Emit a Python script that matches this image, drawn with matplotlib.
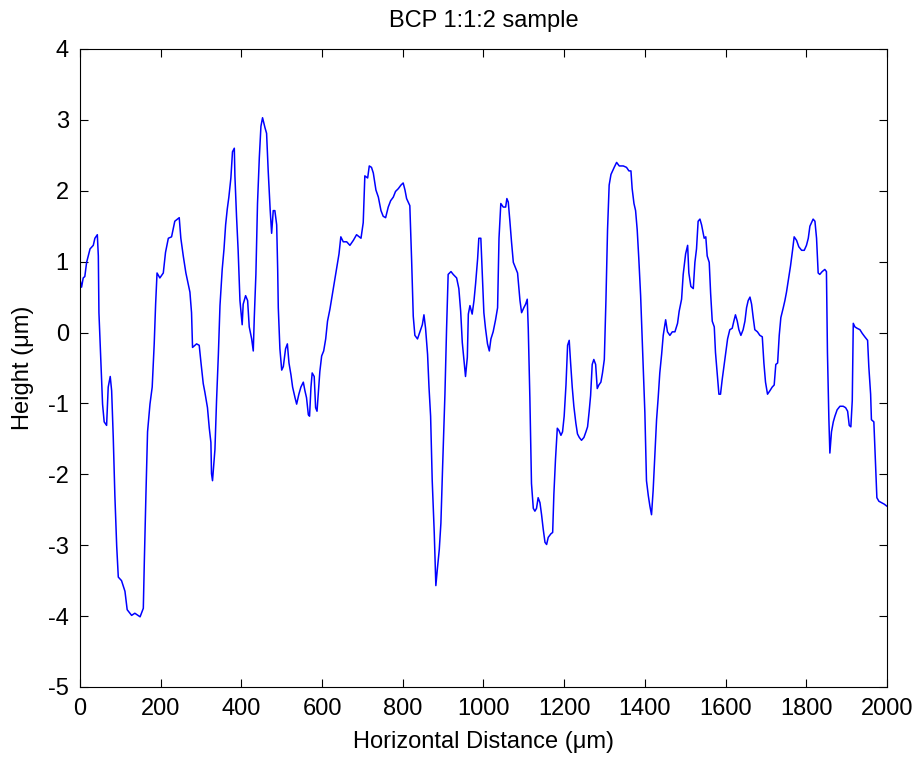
import matplotlib
matplotlib.use("Agg")
import matplotlib.pyplot as plt

plt.rcParams["font.family"] = ["Liberation Sans", "DejaVu Sans"]
plt.rcParams["axes.unicode_minus"] = False

# profile (distance in um, height in um)
distance = [
    0, 4, 8, 12, 16.5, 25, 33, 37, 43, 45.5, 47, 52, 56, 60, 66, 70, 75, 78.5, 82.5, 86.5,
    91, 95, 103, 111.5, 117, 128, 136, 149, 157, 159.5, 163.5, 167.5, 173.5, 179, 184, 187.5,
    191, 198, 206.5, 212, 219, 227, 235, 246, 250, 256, 262.5, 272.5, 276.5, 279, 289, 295.5,
    300, 305.5, 309.5, 316, 320.5, 324.5, 326, 328.5, 334.5, 338.5, 343, 347, 352.5, 357, 361,
    365, 369, 374, 378, 382.5, 384, 388, 392, 396.5, 402, 404.5, 410.5, 415.5, 419.5, 425.5,
    429.5, 432, 436, 440, 444.5, 448.5, 452.5, 458.5, 462.5, 466.5, 471.5, 475, 479,
    483, 487.5, 490, 491.5, 495.5, 500, 504, 509.5, 514, 518, 523, 527, 533, 537, 542.5,
    547.5, 553.5, 557.5, 561.5, 566, 569, 572.5, 575.5, 580.5, 584, 587.5, 590.5, 594.5,
    599, 604, 609, 613.5, 619.5, 623.5, 628.5, 633.5, 637.5, 642, 646.5, 652.5, 661, 669,
    677.5, 685.5, 696.5, 702, 706, 713, 717, 722.5, 727, 733.5, 739.5, 746, 751.5, 757.5,
    764, 770, 776.5, 782, 789, 795.5, 801, 805.5, 809.5, 813.5, 817.5, 822, 826, 830, 836.5,
    842.5, 848.5, 852.5, 856.5, 861.5, 865, 869, 873, 878, 882, 885.5, 890.5, 894.5, 898.5,
    904.5, 908.5, 912.5, 919.5, 925, 933.5, 939, 943.5, 947.5, 952.5, 955.5, 960, 962.5,
    966.5, 972, 976.5, 980.5,
    985.5, 988.5, 993.5, 997, 1001, 1005, 1010, 1014.5, 1018.5, 1024, 1030, 1035, 1038.5,
    1043, 1049, 1055, 1058, 1061.5, 1065.5, 1069.5, 1074, 1079.5, 1084.5, 1090.5, 1094.5,
    1100, 1104.5, 1108.5, 1111, 1115, 1119, 1123.5, 1127.5, 1131.5, 1135.5, 1140, 1144,
    1148, 1152.5, 1156.5, 1160.5, 1167, 1171.5, 1174.5, 1178.5, 1183, 1187, 1192, 1196,
    1200, 1204.5, 1208.5, 1212.5, 1216, 1220, 1224, 1229, 1233, 1237.5, 1243, 1249, 1254,
    1258, 1262, 1265.5, 1269.5, 1273.5, 1278, 1282, 1286, 1291, 1295, 1299.5, 1303.5,
    1307.5, 1311.5, 1316, 1320, 1324, 1330, 1336.5, 1346.5, 1354.5, 1360.5, 1365.5, 1368.5,
    1373, 1377, 1381, 1385, 1389.5, 1394.5, 1400, 1404, 1408.5, 1412.5, 1416.5, 1420.5,
    1425, 1429, 1433, 1437, 1441.5, 1445.5, 1451.5, 1456, 1462, 1468,
    1474.5, 1481, 1485, 1491, 1495, 1501, 1506, 1509, 1514, 1520, 1524, 1528, 1532, 1536.5,
    1540.5, 1547, 1551, 1554.5, 1559.5, 1563, 1567, 1572, 1575, 1579.5, 1583.5, 1587.5,
    1591.5, 1596, 1601, 1605, 1610.5, 1616.5, 1620.5, 1624.5, 1629, 1633, 1638, 1643.5,
    1648, 1652, 1656, 1660.5, 1664.5, 1668.5, 1672.5, 1679, 1685, 1691, 1695, 1699, 1704,
    1710, 1715.5, 1720.5, 1724.5, 1729, 1733, 1737, 1743, 1747, 1751, 1755, 1761, 1766,
    1770, 1776, 1781.5, 1788.5, 1795, 1800.5, 1805, 1809, 1813, 1817, 1821.5, 1825.5,
    1829.5, 1833.5, 1839.5, 1846, 1850, 1852.5, 1856, 1858.5, 1862.5, 1867, 1871, 1876.5,
    1883.5, 1891.5, 1897.5, 1902.5, 1906.5, 1910.5, 1914, 1916.5, 1920.5, 1926, 1933,
    1938.5, 1945, 1952, 1955, 1959.5, 1961.5, 1967.5, 1971.5, 1975, 1980, 1986.5, 1993, 2000,
]
height = [
    0.75, 0.64, 0.77, 0.79, 0.99, 1.18, 1.23, 1.33, 1.38, 1.08, 0.28, -0.43, -1.01, -1.26,
    -1.31, -0.77, -0.62, -0.82, -1.48, -2.30, -3.01, -3.45, -3.50, -3.65, -3.91, -3.99,
    -3.96, -4.01, -3.89, -3.23, -2.28, -1.40, -1.01, -0.77, -0.16, 0.40, 0.84, 0.77, 0.84,
    1.13, 1.33, 1.35, 1.57, 1.62, 1.33, 1.08, 0.84, 0.57, 0.28, -0.21, -0.16, -0.18, -0.43,
    -0.72, -0.84, -1.06, -1.35, -1.55, -1.99, -2.09, -1.65, -0.96, -0.31, 0.38, 0.89, 1.18,
    1.52, 1.74, 1.91, 2.18, 2.55, 2.60, 2.21, 1.64, 1.16, 0.45, 0.11, 0.40, 0.52, 0.45, 0.08,
    -0.09, -0.26, 0.21, 0.82, 1.82, 2.47, 2.91, 3.03, 2.89, 2.81, 2.28, 1.72, 1.40, 1.72,
    1.72, 1.52, 0.89, 0.35, -0.23, -0.53, -0.48, -0.23, -0.16, -0.43, -0.60, -0.77, -0.92,
    -1.01, -0.87, -0.77, -0.70, -0.82, -0.92, -1.16, -1.18, -0.77, -0.57, -0.62, -1.06,
    -1.11, -0.87, -0.55, -0.33, -0.26, -0.09, 0.16, 0.33, 0.47, 0.64, 0.82, 0.96, 1.11,
    1.35, 1.28, 1.28, 1.23, 1.30, 1.38, 1.33, 1.55, 2.21, 2.18, 2.35, 2.33, 2.25, 2.01,
    1.91, 1.72, 1.64, 1.62, 1.77, 1.86, 1.91, 1.99, 2.03, 2.08, 2.11, 2.01, 1.89, 1.84,
    1.79, 1.01, 0.23, -0.04, -0.09, 0.01, 0.11, 0.25, 0.06, -0.31, -0.77, -1.18, -2.09,
    -2.82, -3.57, -3.35, -3.06, -2.69, -1.94, -0.87, 0.04, 0.82, 0.86, 0.82, 0.77, 0.62,
    0.30, -0.14, -0.43, -0.62, -0.35, 0.26, 0.38, 0.26, 0.45, 0.69,
    1.04, 1.33, 1.33, 0.84, 0.28, 0.06, -0.16, -0.26, -0.09, 0.01, 0.18, 0.35, 1.33, 1.82,
    1.77, 1.77, 1.89, 1.84, 1.57, 1.28, 0.99, 0.91, 0.84, 0.45, 0.28, 0.35, 0.40, 0.47,
    0.06, -0.92, -2.13, -2.48, -2.52, -2.48, -2.33, -2.40, -2.57, -2.77, -2.96, -2.99,
    -2.89, -2.84, -2.82, -2.28, -1.79, -1.35, -1.38, -1.45, -1.40, -1.18, -0.74, -0.18,
    -0.11, -0.43, -0.77, -1.04, -1.28, -1.43, -1.48, -1.52, -1.48, -1.40, -1.33, -1.11,
    -0.89, -0.45, -0.38, -0.45, -0.79, -0.74, -0.70, -0.57, -0.38, 0.45, 1.45, 2.08, 2.23,
    2.28, 2.33, 2.40, 2.35, 2.35, 2.33, 2.28, 2.28, 2.03, 1.82, 1.72, 1.45, 1.04, 0.52,
    -0.28, -1.13, -2.09, -2.30, -2.45, -2.57, -2.23, -1.70, -1.23, -0.92, -0.57, -0.31,
    -0.04, 0.18, 0.01, -0.04, 0.01,
    0.01, 0.13, 0.30, 0.47, 0.82, 1.11, 1.23, 0.84, 0.65, 0.62, 0.99, 1.18, 1.57, 1.60,
    1.52, 1.33, 1.35, 1.08, 0.99, 0.55, 0.16, 0.08, -0.28, -0.60, -0.87, -0.87, -0.67,
    -0.48, -0.28, -0.09, 0.04, 0.06, 0.16, 0.25, 0.16, 0.04, -0.04, 0.04, 0.16, 0.35, 0.45,
    0.50, 0.40, 0.21, 0.04, 0.01, -0.04, -0.06, -0.43, -0.70, -0.87, -0.82, -0.77, -0.74,
    -0.45, -0.43, -0.04, 0.21, 0.35, 0.45, 0.57, 0.72, 0.94, 1.16, 1.35, 1.30, 1.21, 1.16,
    1.16, 1.23, 1.33, 1.50, 1.55, 1.60, 1.57, 1.33, 0.84, 0.82, 0.86, 0.89, 0.86, -0.28,
    -1.21, -1.70, -1.40, -1.26, -1.18, -1.09, -1.04, -1.04, -1.06, -1.11, -1.31, -1.33,
    -0.96, 0.13, 0.08, 0.06, 0.04, -0.01, -0.06, -0.11, -0.48, -0.87, -1.23, -1.26, -1.84,
    -2.33, -2.38, -2.40, -2.42, -2.45,
]

fig = plt.figure(figsize=(9.16, 7.57), dpi=100)
ax = fig.add_axes([0.0873, 0.0925, 0.8810, 0.8428])
ax.plot(distance, height, color="#0000ff", linewidth=1.1)

ax.set_xlim(0, 2000)
ax.set_ylim(-5, 4)
ax.set_xticks(range(0, 2001, 200))
ax.set_yticks(range(-5, 5))
ax.tick_params(direction="in", top=True, right=True, length=6, width=0.8,
               labelsize=17, pad=8)
for s in ax.spines.values():
    s.set_linewidth(0.8)

ax.set_title("BCP 1:1:2 sample", fontsize=17, pad=16)
ax.set_xlabel("Horizontal Distance (\u03bcm)", fontsize=17, labelpad=8)
ax.set_ylabel("Height (\u03bcm)", fontsize=17, labelpad=10)

fig.savefig("out.png", dpi=100)
